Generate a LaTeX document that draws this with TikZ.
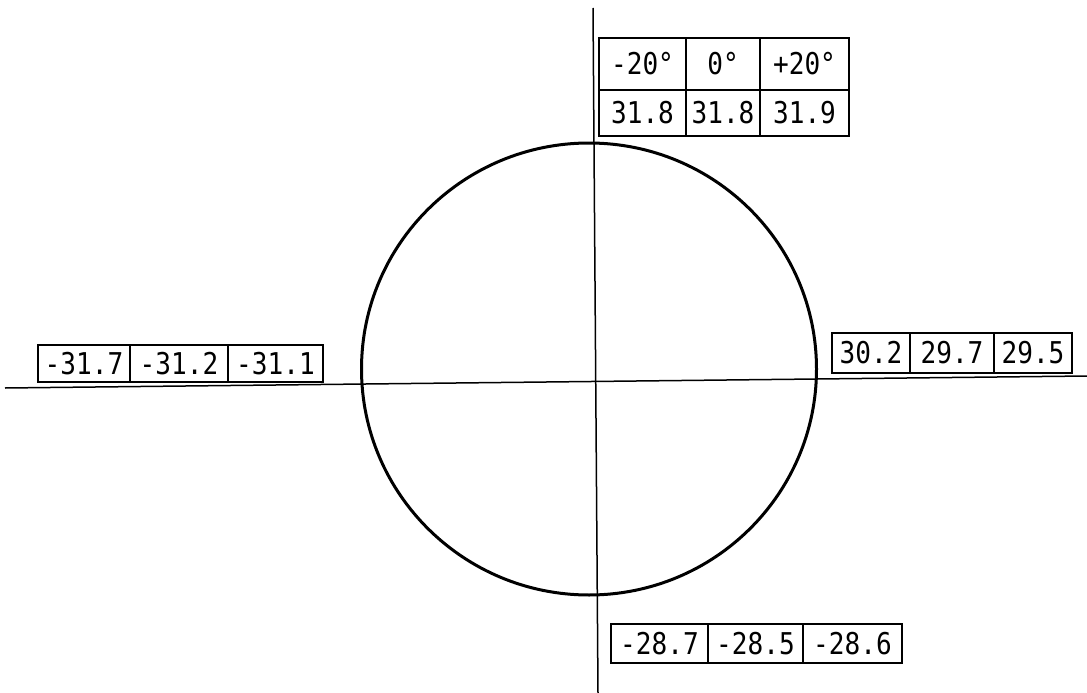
\documentclass[tikz,border=0pt]{standalone}
\usepackage{fontspec}
\usepackage{tikz}
\newfontfamily\plotfont[FakeStretch=0.87]{DejaVu Sans Mono}

\tikzset{
  cell/.style={draw=black,line width=2.2pt,inner sep=0pt,outer sep=0pt,
    font=\fontsize{30}{30}\plotfont},
}

\begin{document}
\begin{tikzpicture}[x=1pt,y=-1pt]
  \useasboundingbox (0,0) rectangle (1087,693);

  % Axes of the plot
  \coordinate (ytop) at (593,8);
  \coordinate (ybot) at (598,693);
  \coordinate (xleft) at (5,388);
  \coordinate (xright) at (1087,376);
  \draw[line width=1.5pt] (ytop)--(ybot);
  \draw[line width=1.5pt] (xleft)--(xright);

  % Measured contour (nearly a circle)
  \draw[line width=3pt] (589,369) ellipse [x radius=227.5,y radius=226];

  % Top table: angle header and values
  \node[cell,minimum width=87pt,minimum height=52pt] (ha) at (642.5,64) {-20°};
  \node[cell,minimum width=74pt,minimum height=52pt] (hb) at (723,64) {0°};
  \node[cell,minimum width=89pt,minimum height=52pt] (hc) at (804.5,64) {+20°};
  \node[cell,minimum width=87pt,minimum height=46pt] (ta) at (642.5,113) {31.8};
  \node[cell,minimum width=74pt,minimum height=46pt] (tb) at (723,113) {31.8};
  \node[cell,minimum width=89pt,minimum height=46pt] (tc) at (804.5,113) {31.9};

  % Left values
  \node[cell,minimum width=92pt,minimum height=37pt] (la) at (84,363.5) {-31.7};
  \node[cell,minimum width=98pt,minimum height=37pt] (lb) at (179,363.5) {-31.2};
  \node[cell,minimum width=95pt,minimum height=37pt] (lc) at (275.5,363.5) {-31.1};

  % Right values
  \node[cell,minimum width=78pt,minimum height=40pt] (ra) at (871,353) {30.2};
  \node[cell,minimum width=84pt,minimum height=40pt] (rb) at (952,353) {29.7};
  \node[cell,minimum width=78pt,minimum height=40pt] (rc) at (1033,353) {29.5};

  % Bottom values
  \node[cell,minimum width=97pt,minimum height=39pt] (ba) at (659.5,643.5) {-28.7};
  \node[cell,minimum width=95pt,minimum height=39pt] (bb) at (755.5,643.5) {-28.5};
  \node[cell,minimum width=99pt,minimum height=39pt] (bc) at (852.5,643.5) {-28.6};
\end{tikzpicture}
\end{document}
